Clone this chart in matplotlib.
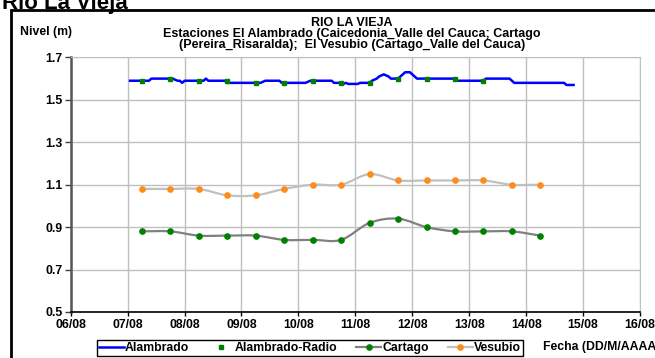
import pandas as pd
import matplotlib
matplotlib.use("Agg")
import matplotlib.dates as mdates
from matplotlib import pyplot as plt
from matplotlib.path import Path
from matplotlib.patches import PathPatch, Rectangle
from matplotlib.lines import Line2D

plt.rcParams['font.family'] = ['Liberation Sans', 'DejaVu Sans']
plt.rcParams['font.weight'] = 'bold'

# Datos
inicio = "2010-08-07 00:00"

# Alambrado: horas desde el 07/08 00:00 y nivel (m)
alambrado_horas = [1, 9, 10, 19, 21, 22, 23, 24, 32, 33, 34, 41, 42, 56, 58, 64, 65, 75, 77,
                   86, 87, 90, 91, 92, 93, 97, 98, 102, 103, 105, 106, 108, 110, 111, 114,
                   115, 117, 119, 120, 121, 122, 138, 139, 150, 151, 161, 162, 163, 184, 185, 188]
alambrado_nivel = [1.59, 1.59, 1.60, 1.60, 1.59, 1.59, 1.58, 1.59, 1.59, 1.60, 1.59, 1.59, 1.58,
                   1.58, 1.59, 1.59, 1.58, 1.58, 1.59, 1.59, 1.58, 1.58, 1.575, 1.58, 1.575,
                   1.575, 1.58, 1.58, 1.59, 1.60, 1.61, 1.62, 1.61, 1.60, 1.60, 1.61, 1.63,
                   1.63, 1.62, 1.61, 1.60, 1.60, 1.59, 1.59, 1.60, 1.60, 1.59, 1.58, 1.58,
                   1.57, 1.57]

# Alambrado-Radio
radio_fechas = ["07/08 06:00", "07/08 18:00", "08/08 06:00", "08/08 18:00", "09/08 06:00",
                "09/08 18:00", "10/08 06:00", "10/08 18:00", "11/08 06:00", "11/08 18:00",
                "12/08 06:00", "12/08 18:00", "13/08 06:00"]
radio_nivel = [1.59, 1.60, 1.59, 1.59, 1.58, 1.58, 1.59, 1.58, 1.58, 1.60, 1.60, 1.60, 1.59]

# Cartago y Vesubio (cada 12 horas)
fechas_12h = ["07/08 06:00", "07/08 18:00", "08/08 06:00", "08/08 18:00", "09/08 06:00",
              "09/08 18:00", "10/08 06:00", "10/08 18:00", "11/08 06:00", "11/08 18:00",
              "12/08 06:00", "12/08 18:00", "13/08 06:00", "13/08 18:00", "14/08 06:00"]
cartago = [0.88, 0.88, 0.86, 0.86, 0.86, 0.84, 0.84, 0.84, 0.92, 0.94, 0.90, 0.88, 0.88, 0.88, 0.86]
vesubio = [1.08, 1.08, 1.08, 1.05, 1.05, 1.08, 1.10, 1.10, 1.15, 1.12, 1.12, 1.12, 1.12, 1.10, 1.10]

dias = ["06/08", "07/08", "08/08", "09/08", "10/08", "11/08", "12/08", "13/08", "14/08", "15/08", "16/08"]
niveles_ticks = [0.5, 0.7, 0.9, 1.1, 1.3, 1.5, 1.7]


def a_fecha(textos):
    # "DD/MM HH:MM" -> numero de fecha de matplotlib
    fechas = []
    for t in textos:
        dia, hora = t.split()
        d, m = dia.split("/")
        fechas.append("2010-%s-%s %s" % (m, d, hora))
    return mdates.date2num(pd.to_datetime(fechas))


def curva_suave(ax, x, y, color, lw):
    # linea suavizada tipo Excel (Bezier por tramos)
    pts = list(zip(x, y))
    n = len(pts)
    verts = [pts[0]]
    codes = [Path.MOVETO]
    for i in range(n - 1):
        p0 = pts[max(i - 1, 0)]
        p1 = pts[i]
        p2 = pts[i + 1]
        p3 = pts[min(i + 2, n - 1)]
        c1 = (p1[0] + (p2[0] - p0[0]) / 6, p1[1] + (p2[1] - p0[1]) / 6)
        c2 = (p2[0] - (p3[0] - p1[0]) / 6, p2[1] - (p3[1] - p1[1]) / 6)
        verts += [c1, c2, p2]
        codes += [Path.CURVE4] * 3
    ax.add_patch(PathPatch(Path(verts, codes), fill=False, edgecolor=color, lw=lw,
                           capstyle='round', joinstyle='round', zorder=3))


x_alam = mdates.date2num(pd.Timestamp(inicio) + pd.to_timedelta(alambrado_horas, unit='h'))
x_radio = a_fecha(radio_fechas)
x_12h = a_fecha(fechas_12h)
x_dias = a_fecha([d + " 00:00" for d in dias])

fig = plt.figure(figsize=(6.55, 3.58), dpi=100, facecolor='white')
ax = fig.add_axes([70.7 / 655, 1 - 312 / 358, (640 - 70.7) / 655, (312 - 57.4) / 358])

curva_suave(ax, x_12h, vesubio, '#c0c0c0', 1.6)
ax.plot(x_12h, vesubio, ls='none', marker='o', ms=3.8, color='#ff8c1a', mec='#ff8c1a', zorder=4)
curva_suave(ax, x_12h, cartago, '#808080', 1.6)
ax.plot(x_12h, cartago, ls='none', marker='o', ms=3.8, color='#008000', mec='#008000', zorder=4)
ax.plot(x_alam, alambrado_nivel, color='#0000ff', lw=1.8, zorder=5, solid_joinstyle='round')
ax.plot(x_radio, radio_nivel, ls='none', marker='s', ms=2.2, color='#008000', zorder=6)

ax.set_xlim(x_dias[0], x_dias[-1])
ax.set_ylim(0.5, 1.7)
ax.set_xticks(x_dias)
ax.set_xticklabels(dias, fontsize=8.8, fontweight='bold')
ax.set_yticks(niveles_ticks)
ax.set_yticklabels(["%.1f" % v for v in niveles_ticks], fontsize=8.8, fontweight='bold')
ax.grid(True, color='#c0c0c0', lw=1)
ax.set_axisbelow(True)
ax.tick_params(axis='x', length=3, width=1, color='black', pad=2)
ax.tick_params(axis='y', length=4, width=1, color='#404040', pad=2)
ax.spines['left'].set_color('#555555')
ax.spines['left'].set_linewidth(1.8)
ax.spines['bottom'].set_color('black')
ax.spines['bottom'].set_linewidth(1.2)
ax.spines['top'].set_color('#c0c0c0')
ax.spines['right'].set_color('#c0c0c0')

# marco del grafico
fig.patches.append(Rectangle((11 / 655, -0.1), 1.2, 1 - 10 / 358 + 0.1, transform=fig.transFigure,
                             fill=False, edgecolor='black', lw=2))

# titulo grande, recortado arriba como en la imagen original
fig.text(2 / 655, 1 - 9 / 358, "Rio La Vieja", fontsize=16, fontweight='bold', va='baseline')
fig.text(352 / 655, 1 - 34 / 358, "RIO LA VIEJA\nEstaciones El Alambrado (Caicedonia_Valle del Cauca; Cartago\n"
         "(Pereira_Risaralda);  El Vesubio (Cartago_Valle del Cauca)",
         ha='center', va='center', fontsize=9, fontweight='bold', linespacing=0.88)
fig.text(20 / 655, 1 - 32 / 358, "Nivel (m)", fontsize=8.8, fontweight='bold', va='center')
fig.text(543 / 655, 1 - 347 / 358, "Fecha (DD/M/AAAA)", fontsize=8.8, fontweight='bold', va='center')

handles = [Line2D([], [], color='#0000ff', lw=1.8),
           Line2D([], [], ls='none', marker='s', ms=2.2, color='#008000'),
           Line2D([], [], color='#808080', lw=1.6, marker='o', ms=3.8, mfc='#008000', mec='#008000'),
           Line2D([], [], color='#c0c0c0', lw=1.6, marker='o', ms=3.8, mfc='#ff8c1a', mec='#ff8c1a')]
leg = fig.legend(handles, ["Alambrado", "Alambrado-Radio", "Cartago", "Vesubio"], ncol=4,
                 loc='center', bbox_to_anchor=(310 / 655, 1 - 348 / 358), fontsize=8.8,
                 frameon=True, fancybox=False, edgecolor='black', handlelength=2.0,
                 handletextpad=0.1, columnspacing=1.6, borderpad=0.15, framealpha=1)
leg.get_frame().set_linewidth(1)

plt.savefig('out.png', dpi=100)
plt.close()
